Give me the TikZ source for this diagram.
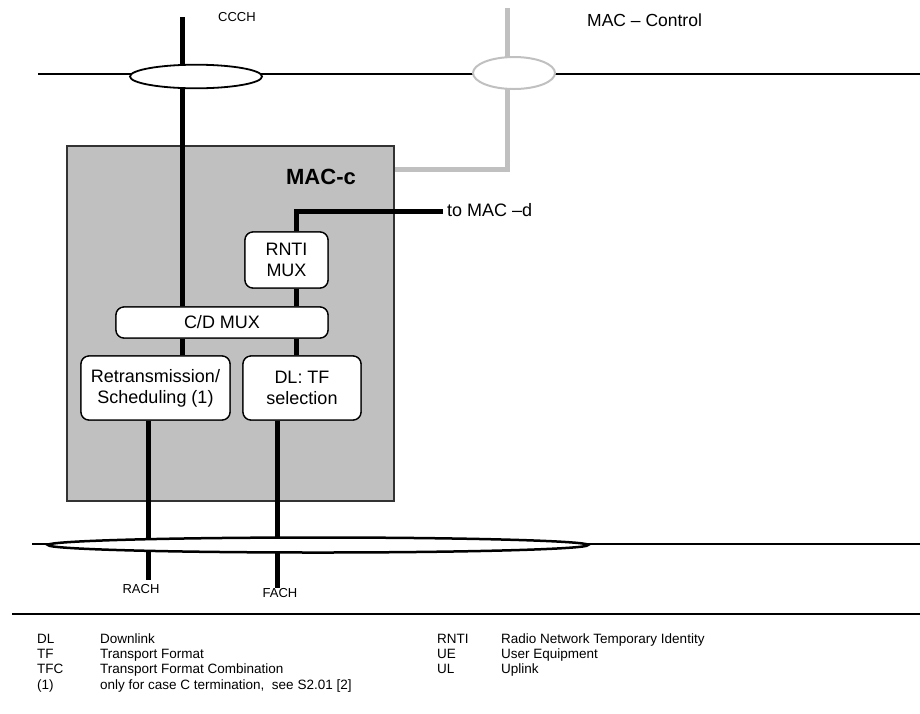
\documentclass[tikz,border=0pt]{standalone}
\usepackage{fontspec}
\setmainfont{Liberation Sans}
\definecolor{macgray}{HTML}{C0C0C0}
\newcommand{\fsz}[2]{\fontsize{#1}{#2}\selectfont}
\begin{document}
\begin{tikzpicture}[x=1pt,y=-1pt,
  thickline/.style={line width=5pt, black},
  thinline/.style={line width=1.6pt, black},
  grayline/.style={line width=5pt, macgray},
  fbox/.style={draw, fill=white, rounded corners=8pt, line width=1.3pt, align=center, inner sep=0pt, font=\fsz{18}{21}},
  lbl/.style={inner sep=0pt, font=\fsz{13}{13}},
  leg/.style={inner sep=0pt, anchor=base west, font=\fsz{13.5}{14}}]
\useasboundingbox (0,0) rectangle (920,713);
% MAC-c container
\node[draw=black!80, fill=macgray, line width=1.2pt, minimum width=327pt, minimum height=355pt, inner sep=0pt] (macc) at (230.5,323.5) {};
\node[inner sep=0pt, font=\fsz{22}{22}\bfseries] (macclbl) at (321,177) {MAC-c};
% coordinates
\coordinate (topL) at (38,74);
\coordinate (topR) at (920,74);
\coordinate (ccchtop) at (182,17);
\coordinate (mctop) at (507,8);
\coordinate (mccorner) at (507,169);
\coordinate (botL) at (32,544);
\coordinate (botR) at (920,544);
\coordinate (tomacd) at (443,211);
\coordinate (sepL) at (12,614);
\coordinate (sepR) at (920,614);
% function boxes (placed first for reference, redrawn on top)
\path node[fbox, minimum width=83pt, minimum height=56pt] (rnti) at (286.5,260) {RNTI\\MUX}
      node[fbox, minimum width=212pt, minimum height=31pt] (cdmux) at (222,322.5) {C/D MUX}
      node[fbox, minimum width=149pt, minimum height=64pt] (retx) at (155.5,388) {Retransmission/\\Scheduling (1)}
      node[fbox, minimum width=118pt, minimum height=64pt] (dltf) at (302,388) {DL: TF\\selection};
% labels
\node[lbl, anchor=west] (ccchlbl) at (218,17) {CCCH};
\node[inner sep=0pt, anchor=west, font=\fsz{17.5}{18}] (mcclbl) at (587,20) {MAC -- Control};
\node[inner sep=0pt, anchor=west, font=\fsz{18}{18}] (macdlbl) at (447,210) {to MAC --d};
\node[lbl] (rach) at (141,589) {RACH};
\node[lbl] (fach) at (280,593) {FACH};
% horizontal lines
\draw[thinline] (topL) -- (topR);
\draw[thinline] (botL) -- (botR);
\draw[line width=1.3pt] (sepL) -- (sepR);
% gray MAC-Control path
\draw[grayline] (mctop) -- (mccorner) -- (macc.east |- mccorner);
% CCCH
\draw[thickline] (ccchtop) -- (ccchtop |- cdmux.north);
\draw[thickline] (ccchtop |- cdmux.south) -- (ccchtop |- retx.north);
% RNTI to MAC-d
\draw[thickline] (tomacd) -| ([xshift=9.5pt]rnti.north);
\draw[thickline] ([xshift=9.5pt]rnti.south) -- ([xshift=9.5pt]rnti.south |- cdmux.north);
\draw[thickline] ([xshift=9.5pt]rnti.south |- cdmux.south) -- ([xshift=9.5pt]rnti.south |- dltf.north);
% RACH / FACH
\draw[thickline] ([xshift=-7.5pt]retx.south) -- ([xshift=-7.5pt]retx.south |- 0,580) coordinate (rachend);
\draw[thickline] ([xshift=-25pt]dltf.south) -- ([xshift=-25pt]dltf.south |- 0,588) coordinate (fachend);
% boxes on top
\path node[fbox, minimum width=83pt, minimum height=56pt] at (rnti) {RNTI\\MUX}
      node[fbox, minimum width=212pt, minimum height=31pt] at (cdmux) {C/D MUX}
      node[fbox, minimum width=149pt, minimum height=64pt] at (retx) {Retransmission/\\Scheduling (1)}
      node[fbox, minimum width=118pt, minimum height=64pt] at (dltf) {DL: TF\\selection};
% ellipses
\draw[line width=1.8pt, fill=white] (196,76.5) ellipse [x radius=66, y radius=11.8];
\draw[line width=2pt, draw=macgray, fill=white] (514,73) ellipse [x radius=41, y radius=16];
\draw[line width=2.5pt, fill=white] (318,545) ellipse [x radius=270, y radius=7.5];
% legend
\node[leg] (l1a) at (37,643.5) {DL};
\node[leg] (l1b) at (100,643.5) {Downlink};
\node[leg] (l2a) at (37,658.5) {TF};
\node[leg] (l2b) at (100,658.5) {Transport Format};
\node[leg] (l3a) at (37,673.5) {TFC};
\node[leg] (l3b) at (100,673.5) {Transport Format Combination};
\node[leg] (l4a) at (37,689.5) {(1)};
\node[leg] (l4b) at (100,689.5) {only for case C termination,\ \ see S2.01 [2]};
\node[leg] (r1a) at (437,643.5) {RNTI};
\node[leg] (r1b) at (501,643.5) {Radio Network Temporary Identity};
\node[leg] (r2a) at (437,658.5) {UE};
\node[leg] (r2b) at (501,658.5) {User Equipment};
\node[leg] (r3a) at (437,673.5) {UL};
\node[leg] (r3b) at (501,673.5) {Uplink};
\end{tikzpicture}
\end{document}
